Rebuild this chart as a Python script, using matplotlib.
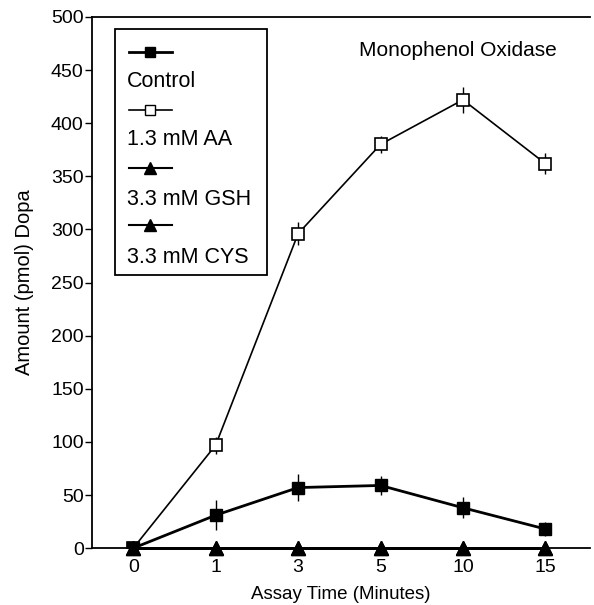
import matplotlib.pyplot as plt
from matplotlib.lines import Line2D
from matplotlib.patches import Rectangle

plt.rcParams['font.family'] = ['Liberation Sans', 'DejaVu Sans']

# Dados
tempos = ['0', '1', '3', '5', '10', '15']
controle = [0, 31, 57, 59, 38, 18]
controle_err = [0, 14, 13, 9, 10, 7]
aa = [0, 97, 296, 380, 422, 362]
aa_err = [0, 8, 11, 8, 12, 10]
gsh = [0, 0, 0, 0, 0, 0]
cys = [0, 0, 0, 0, 0, 0]

legenda_nomes = ['Control', '1.3 mM AA', '3.3 mM GSH', '3.3 mM CYS']

fig = plt.figure(figsize=(5.94, 6.05), dpi=100)
ax = fig.add_axes([0.155, 0.094, 0.838, 0.878])

x = list(range(len(tempos)))

ax.plot(x, gsh, color='black', lw=2.0, marker='^', ms=10, clip_on=False, zorder=4)
ax.plot(x, cys, color='black', lw=2.0, marker='^', ms=10, clip_on=False, zorder=4)
ax.errorbar(x, aa, yerr=aa_err, color='black', lw=1.2, marker='s', ms=8,
            mfc='white', mec='black', mew=1.2, elinewidth=1.0, capsize=0, zorder=3)
ax.errorbar(x, controle, yerr=controle_err, color='black', lw=2.0, marker='s', ms=8.5,
            elinewidth=1.0, capsize=0, zorder=3)

ax.set_xlim(-0.5, 5.54)
ax.set_ylim(0, 500)
ax.set_xticks(x)
ax.set_xticklabels(tempos)
ax.set_yticks(range(0, 501, 50))
ax.tick_params(axis='x', length=0, pad=8, labelsize=14)
ax.tick_params(axis='y', length=5, width=1, pad=1, labelsize=14)
ax.spines['right'].set_visible(False)
for s in ['left', 'bottom', 'top']:
    ax.spines[s].set_linewidth(1.3)

ax.set_xlabel('Assay Time (Minutes)', fontsize=13.5, labelpad=7)
ax.set_ylabel('Amount (pmol) Dopa', fontsize=14.5, labelpad=12)

ax.text(0.735, 0.936, 'Monophenol Oxidase', transform=ax.transAxes,
        ha='center', va='center', fontsize=15)

# Legenda desenhada à mão: marcador em cima, nome embaixo
ax.add_patch(Rectangle((0.046, 0.514), 0.305, 0.464, transform=ax.transAxes,
                       fill=False, lw=1.3, ec='black', zorder=5))
estilos = [
    dict(marker='s', mfc='black', lw=2.0),
    dict(marker='s', mfc='white', lw=1.2),
    dict(marker='^', mfc='black', lw=1.5),
    dict(marker='^', mfc='black', lw=1.5),
]
linhas_y = [0.934, 0.825, 0.716, 0.608]
textos_y = [0.878, 0.770, 0.657, 0.548]
for nome, est, ly, ty in zip(legenda_nomes, estilos, linhas_y, textos_y):
    ax.add_line(Line2D([0.074, 0.161], [ly, ly], transform=ax.transAxes, color='black',
                       lw=est['lw'], zorder=6))
    ax.add_line(Line2D([0.116], [ly], transform=ax.transAxes, color='black', marker=est['marker'],
                       mfc=est['mfc'], mec='black', ms=6.5 if est['marker'] == 's' else 9, zorder=6))
    ax.text(0.070, ty, nome, transform=ax.transAxes, ha='left', va='center', fontsize=15.5, zorder=6)

fig.savefig('out.png', dpi=100)
